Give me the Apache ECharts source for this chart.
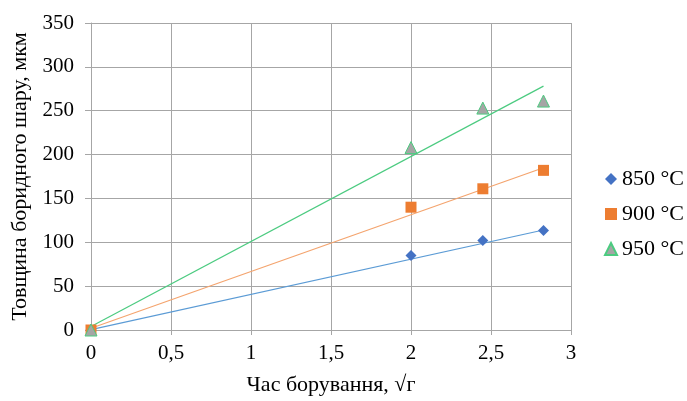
<!DOCTYPE html>
<html><head><meta charset="utf-8">
<script src="https://cdn.jsdelivr.net/npm/echarts@6/dist/echarts.min.js"></script>
<style>html,body{margin:0;padding:0;background:#fff}#c{width:687px;height:401px}</style>
</head><body><div id="c"></div>
<script>
var xValues = [0, 2, 2.449, 2.828];
var s850 = [0, 85, 102, 113.5];
var s900 = [0, 140, 161, 182];
var s950 = [0, 208, 253, 261];
var trendX = [0, 2.828];
var t850 = [0.5, 114];
var t900 = [2, 185];
var t950 = [4, 278];
var names = ['850 °C', '900 °C', '950 °C'];
var xTicks = ['0', '0,5', '1', '1,5', '2', '2,5', '3'];

function pairs(xs, ys){ return xs.map(function(x,i){return [x, ys[i]];}); }
var font = 'Liberation Serif';
var chart = echarts.init(document.getElementById('c'), null, {renderer:'canvas'});
chart.setOption({
  animation:false,
  backgroundColor:'#fff',
  grid:{left:91, right:116, top:23, bottom:70, containLabel:false},
  xAxis:{type:'value', min:0, max:3, interval:0.5,
    name:'Час борування, √г', nameLocation:'middle', nameGap:44,
    nameTextStyle:{fontFamily:font, fontSize:22, color:'#000'},
    axisLine:{show:true, lineStyle:{color:'#A6A6A6'}},
    axisTick:{show:true, length:5, lineStyle:{color:'#A6A6A6'}},
    axisLabel:{fontFamily:font, fontSize:21, color:'#000', margin:13,
      formatter:function(v){ return xTicks[Math.round(v*2)]; }},
    splitLine:{show:true, lineStyle:{color:'#A6A6A6', width:1}}
  },
  yAxis:{type:'value', min:0, max:350, interval:50,
    name:'Товщина боридного шару, мкм', nameLocation:'middle', nameGap:60, nameRotate:90,
    nameTextStyle:{fontFamily:font, fontSize:22, color:'#000'},
    axisLine:{show:true, lineStyle:{color:'#A6A6A6'}},
    axisTick:{show:true, length:6, lineStyle:{color:'#A6A6A6'}},
    axisLabel:{fontFamily:font, fontSize:21, color:'#000', margin:17},
    splitLine:{show:true, lineStyle:{color:'#A6A6A6', width:1}}
  },
  legend:{orient:'vertical', left:599, top:163, itemGap:13, itemWidth:12, itemHeight:12,
    textStyle:{fontFamily:font, fontSize:22, color:'#000'},
    data:[{name:names[0], icon:'diamond'},{name:names[1], icon:'rect'},{name:names[2], icon:'triangle'}]
  },
  series:[
    {type:'line', data:pairs(trendX, t850), symbol:'none', silent:true, lineStyle:{color:'#5B9BD5', width:1.2}, z:1},
    {type:'line', data:pairs(trendX, t900), symbol:'none', silent:true, lineStyle:{color:'#F4A46E', width:1.2}, z:1},
    {type:'line', data:pairs(trendX, t950), symbol:'none', silent:true, lineStyle:{color:'#4CCB80', width:1.2}, z:1},
    {name:names[0], type:'scatter', data:pairs(xValues, s850), symbol:'diamond', symbolSize:11,
      itemStyle:{color:'#4472C4', opacity:1}, z:3},
    {name:names[1], type:'scatter', data:pairs(xValues, s900), symbol:'rect', symbolSize:11,
      itemStyle:{color:'#ED7D31', opacity:1}, z:3},
    {name:names[2], type:'scatter', data:pairs(xValues, s950), symbol:'triangle', symbolSize:12,
      itemStyle:{color:'#A5A5A5', borderColor:'#4CCB80', borderWidth:1, opacity:1}, z:3}
  ]
});
</script></body></html>
